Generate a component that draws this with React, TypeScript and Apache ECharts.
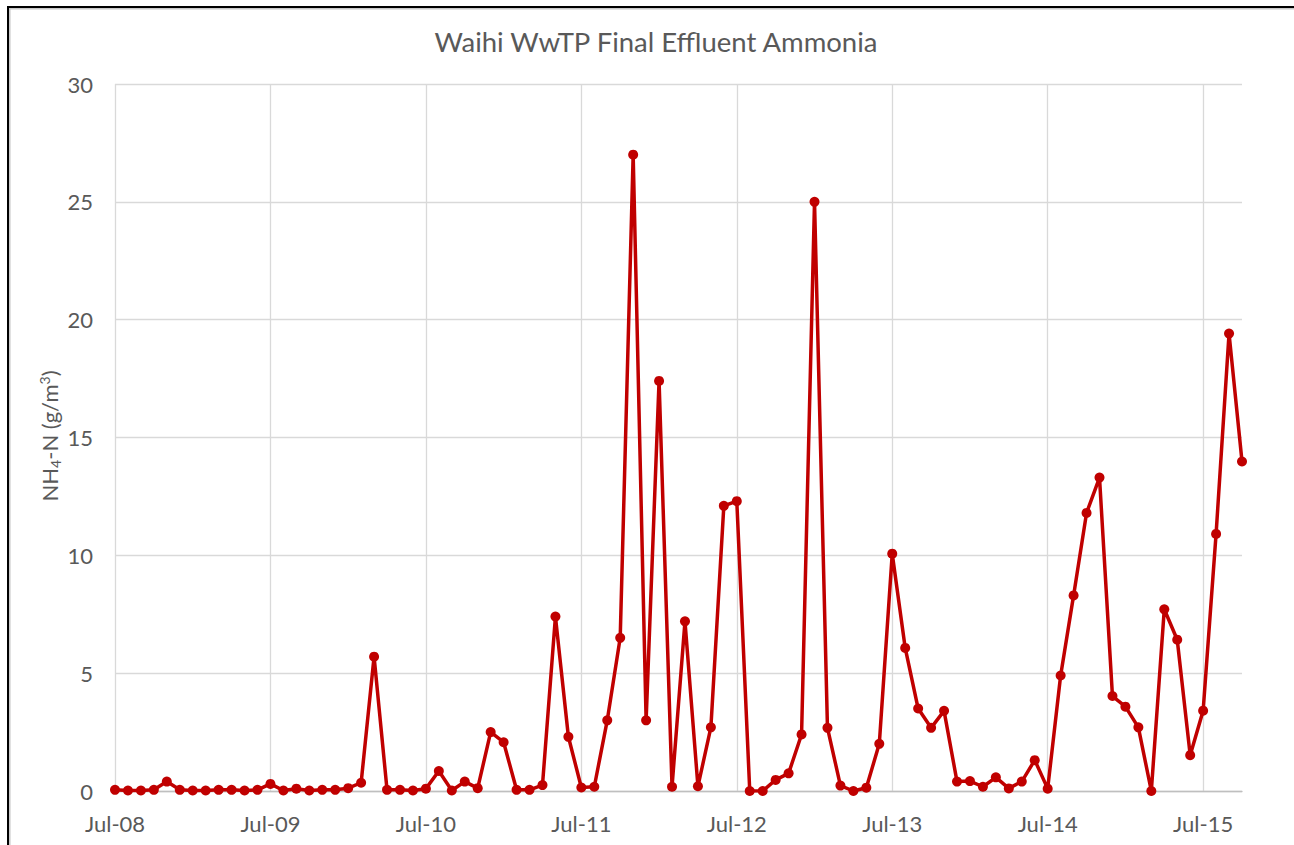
import React, { useEffect, useRef } from "react";
import * as echarts from "echarts";

const categories = [
  "Jul-08","Aug-08","Sep-08","Oct-08","Nov-08","Dec-08",
  "Jan-09","Feb-09","Mar-09","Apr-09","May-09","Jun-09",
  "Jul-09","Aug-09","Sep-09","Oct-09","Nov-09","Dec-09",
  "Jan-10","Feb-10","Mar-10","Apr-10","May-10","Jun-10",
  "Jul-10","Aug-10","Sep-10","Oct-10","Nov-10","Dec-10",
  "Jan-11","Feb-11","Mar-11","Apr-11","May-11","Jun-11",
  "Jul-11","Aug-11","Sep-11","Oct-11","Nov-11","Dec-11",
  "Jan-12","Feb-12","Mar-12","Apr-12","May-12","Jun-12",
  "Jul-12","Aug-12","Sep-12","Oct-12","Nov-12","Dec-12",
  "Jan-13","Feb-13","Mar-13","Apr-13","May-13","Jun-13",
  "Jul-13","Aug-13","Sep-13","Oct-13","Nov-13","Dec-13",
  "Jan-14","Feb-14","Mar-14","Apr-14","May-14","Jun-14",
  "Jul-14","Aug-14","Sep-14","Oct-14","Nov-14","Dec-14",
  "Jan-15","Feb-15","Mar-15","Apr-15","May-15","Jun-15",
  "Jul-15","Aug-15","Sep-15","Oct-15",
];

const ammonia = [
  0.05, 0.02, 0.02, 0.05, 0.4, 0.05,
  0.02, 0.02, 0.05, 0.05, 0.02, 0.05,
  0.3, 0.02, 0.1, 0.02, 0.05, 0.05,
  0.12, 0.35, 5.7, 0.05, 0.05, 0.02,
  0.1, 0.85, 0.02, 0.4, 0.12, 2.5,
  2.07, 0.05, 0.05, 0.25, 7.4, 2.3,
  0.15, 0.18, 3.0, 6.5, 27, 3.0,
  17.4, 0.18, 7.2, 0.2, 2.7, 12.1,
  12.3, 0.0, 0.0, 0.47, 0.75, 2.4,
  25, 2.68, 0.23, 0.0, 0.14, 2.0,
  10.07, 6.07, 3.5, 2.68, 3.4, 0.4,
  0.42, 0.18, 0.58, 0.11, 0.4, 1.31,
  0.1, 4.9, 8.3, 11.8, 13.3, 4.03,
  3.58, 2.7, 0.0, 7.71, 6.42, 1.52,
  3.41, 10.91, 19.41, 13.98,
];

const titleText = "Waihi WwTP Final Effluent Ammonia";
const FONT = "Lato, 'Open Sans', sans-serif";
const GREY = "#595959";

export default function App() {
  const ref = useRef<HTMLDivElement>(null);
  useEffect(() => {
    if (!ref.current) return;
    const chart = echarts.init(ref.current, undefined, { renderer: "svg" });
    chart.setOption({
      animation: false,
      backgroundColor: "#ffffff",
      title: {
        text: titleText,
        left: 651,
        textAlign: "center",
        top: 22,
        textStyle: { fontFamily: FONT, fontSize: 27.5, fontWeight: "normal", color: GREY },
      },
      grid: { left: 115, right: 52, top: 84, bottom: 54 },
      xAxis: {
        type: "category",
        data: categories,
        boundaryGap: false,
        axisLine: { show: true, lineStyle: { color: "#bfbfbf", width: 1.3 } },
        axisTick: { show: false },
        axisLabel: {
          interval: 11,
          margin: 21,
          fontFamily: FONT,
          fontSize: 22,
          color: GREY,
        },
        splitLine: { show: true, interval: 11, lineStyle: { color: "#d9d9d9", width: 1.3 } },
      },
      yAxis: {
        type: "value",
        min: 0,
        max: 30,
        interval: 5,
        axisLine: { show: false },
        axisTick: { show: false },
        axisLabel: { margin: 22, fontFamily: FONT, fontSize: 22, color: GREY },
        splitLine: { show: true, lineStyle: { color: "#d9d9d9", width: 1.3 } },
      },
      graphic: [
        { type: "line", shape: { x1: 8, y1: 7, x2: 1294, y2: 7 }, style: { stroke: "#000", lineWidth: 2 } },
        { type: "line", shape: { x1: 9, y1: 8.8, x2: 1294, y2: 8.8 }, style: { stroke: "#c8c8c8", lineWidth: 1.5 } },
        { type: "line", shape: { x1: 8, y1: 6, x2: 8, y2: 845 }, style: { stroke: "#000", lineWidth: 2 } },
        { type: "line", shape: { x1: 9.8, y1: 8, x2: 9.8, y2: 845 }, style: { stroke: "#c8c8c8", lineWidth: 1.5 } },
        {
          type: "text",
          x: 49,
          y: 436,
          rotation: Math.PI / 2,
          style: {
            text: "{a|NH}{sub|4}{a|-N (g/m}{sup|3}{a|)}",
            align: "center",
            verticalAlign: "middle",
            rich: {
              a: { fontFamily: FONT, fontSize: 22, fill: GREY, color: GREY },
              sub: { fontFamily: FONT, fontSize: 14, fill: GREY, color: GREY, padding: [12, 0, 0, 0] },
              sup: { fontFamily: FONT, fontSize: 14, fill: GREY, color: GREY, padding: [0, 0, 10, 0] },
            },
          },
        },
      ],
      series: [
        {
          type: "line",
          data: ammonia,
          symbol: "circle",
          symbolSize: 10,
          showAllSymbol: true,
          itemStyle: { color: "#C00000" },
          lineStyle: { color: "#C00000", width: 3.5 },
        },
      ],
    });
    return () => chart.dispose();
  }, []);
  return (
    <div
      ref={ref}
      style={{ position: "fixed", left: 0, top: 0, width: 1294, height: 845, background: "#fff" }}
    />
  );
}
